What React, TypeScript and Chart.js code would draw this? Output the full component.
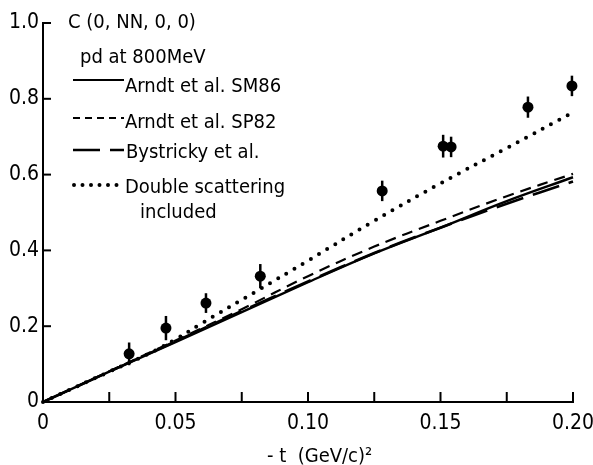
import React, { useEffect, useRef } from "react";
import { Chart, registerables } from "chart.js";

Chart.register(...registerables);

// Theory curves (C(0,NN,0,0) vs -t)
const curveT = [0, 0.025, 0.05, 0.075, 0.1, 0.125, 0.15, 0.175, 0.2];
const arndtSM86 = [0, 0.08, 0.158, 0.237, 0.316, 0.392, 0.46, 0.53, 0.593];
const arndtSP82 = [0, 0.081, 0.162, 0.245, 0.332, 0.41, 0.478, 0.543, 0.602];
const bystricky = [0, 0.08, 0.16, 0.24, 0.318, 0.393, 0.46, 0.523, 0.582];
const doubleT = [0, 0.025, 0.04, 0.05, 0.06, 0.08, 0.1, 0.125, 0.15, 0.175, 0.2];
const doubleScattering = [0, 0.08, 0.128, 0.165, 0.208, 0.29, 0.373, 0.478, 0.577, 0.67, 0.764];

// Measured points
const dataT = [0.0325, 0.0464, 0.0615, 0.082, 0.128, 0.151, 0.154, 0.183, 0.1996];
const dataC = [0.127, 0.195, 0.261, 0.332, 0.557, 0.675, 0.673, 0.778, 0.834];
const dataErr = [0.03, 0.032, 0.026, 0.032, 0.027, 0.03, 0.027, 0.028, 0.027];

// Axis ticks
const xTickValues = [0, 0.025, 0.05, 0.075, 0.1, 0.125, 0.15, 0.175, 0.2];
const xTickLabels = ["0", "", "0.05", "", "0.10", "", "0.15", "", "0.20"];
const yTickValues = [0, 0.2, 0.4, 0.6, 0.8, 1.0];
const yTickLabels = ["0", "0.2", "0.4", "0.6", "0.8", "1.0"];

const FONT = '"DejaVu Sans Condensed", "Liberation Sans Narrow", "Liberation Sans", sans-serif';

const extrasPlugin = {
  id: "extras",
  afterDatasetsDraw(chart: any) {
    const ctx = chart.ctx;
    const xs = chart.scales.x;
    const ys = chart.scales.y;
    ctx.save();
    ctx.strokeStyle = "#000";
    ctx.lineWidth = 2.5;
    ctx.lineCap = "butt";
    for (let i = 0; i < dataT.length; i++) {
      const x = xs.getPixelForValue(dataT[i]);
      const y1 = ys.getPixelForValue(dataC[i] - dataErr[i]);
      const y2 = ys.getPixelForValue(dataC[i] + dataErr[i]);
      ctx.beginPath();
      ctx.moveTo(x, y1);
      ctx.lineTo(x, y2);
      ctx.stroke();
    }
    ctx.restore();
  },
  afterDraw(chart: any) {
    const ctx = chart.ctx;
    const xs = chart.scales.x;
    const ys = chart.scales.y;
    const y0 = ys.getPixelForValue(0);
    const x0 = xs.getPixelForValue(0);
    ctx.save();
    // inward tick marks
    ctx.strokeStyle = "#000";
    ctx.lineWidth = 2;
    for (let i = 1; i < xTickValues.length; i++) {
      const x = xs.getPixelForValue(xTickValues[i]);
      ctx.beginPath();
      ctx.moveTo(x, y0);
      ctx.lineTo(x, y0 - 10);
      ctx.stroke();
    }
    for (let i = 1; i < yTickValues.length; i++) {
      const y = ys.getPixelForValue(yTickValues[i]);
      ctx.beginPath();
      ctx.moveTo(x0, y);
      ctx.lineTo(x0 + 8, y);
      ctx.stroke();
    }
    // x title
    ctx.fillStyle = "#000";
    ctx.font = `20px ${FONT}`;
    ctx.textAlign = "left";
    ctx.textBaseline = "alphabetic";
    ctx.fillText("- t  (GeV/c)²", 267, 462);

    // legend / annotation
    ctx.fillText("C (0, NN, 0, 0)", 68, 28);
    ctx.fillText("pd at 800MeV", 80, 63);
    ctx.fillText("Arndt et al. SM86", 125, 92);
    ctx.fillText("Arndt et al. SP82", 125, 128);
    ctx.fillText("Bystricky et al.", 126, 158);
    ctx.fillText("Double scattering", 125, 193);
    ctx.fillText("included", 140, 218);

    const sample = (y: number, dash: number[], width: number, cap: CanvasLineCap, x1 = 73, x2 = 124) => {
      ctx.beginPath();
      ctx.setLineDash(dash);
      ctx.lineWidth = width;
      ctx.lineCap = cap;
      ctx.moveTo(x1, y);
      ctx.lineTo(x2, y);
      ctx.stroke();
    };
    sample(80, [], 2.2, "butt");
    sample(118, [7, 5], 2, "butt");
    sample(150, [27, 10], 2.5, "butt");
    sample(185, [0, 8.5], 4, "round", 74, 124);
    ctx.setLineDash([]);
    ctx.restore();
  },
};

export default function App() {
  const ref = useRef<HTMLCanvasElement | null>(null);

  useEffect(() => {
    if (!ref.current) return;
    const mk = (xs: number[], ys: number[]) => xs.map((x, i) => ({ x, y: ys[i] }));
    const chart = new Chart(ref.current, {
      type: "line",
      data: {
        datasets: [
          {
            label: "Arndt et al. SM86",
            data: mk(curveT, arndtSM86),
            borderColor: "#000",
            borderWidth: 2.4,
            pointRadius: 0,
            tension: 0.4,
            clip: false,
          } as any,
          {
            label: "Arndt et al. SP82",
            data: mk(curveT, arndtSP82),
            borderColor: "#000",
            borderWidth: 2.2,
            borderDash: [11, 7],
            pointRadius: 0,
            tension: 0.4,
            clip: false,
          },
          {
            label: "Bystricky et al.",
            data: mk(curveT, bystricky),
            borderColor: "#000",
            borderWidth: 2.6,
            borderDash: [28, 10],
            pointRadius: 0,
            tension: 0.4,
            clip: false,
          },
          {
            label: "Double scattering included",
            data: mk(doubleT, doubleScattering),
            borderColor: "#000",
            borderWidth: 4,
            borderDash: [0, 9.5],
            borderCapStyle: "round",
            pointRadius: 0,
            tension: 0.4,
            clip: false,
          },
          {
            label: "data",
            data: mk(dataT, dataC),
            showLine: false,
            pointRadius: 5.5,
            pointBackgroundColor: "#000",
            pointBorderWidth: 0,
            borderColor: "#000",
            clip: false,
          },
        ],
      },
      options: {
        animation: false,
        responsive: false,
        layout: { padding: { top: 23, right: 20, left: 0, bottom: 0 } },
        plugins: { legend: { display: false }, tooltip: { enabled: false } },
        scales: {
          x: {
            type: "linear",
            min: 0,
            max: 0.2,
            afterBuildTicks: (s: any) => {
              s.ticks = xTickValues.map((v) => ({ value: v }));
            },
            afterFit: (s: any) => {
              s.height = 63;
              s.paddingLeft = 0;
              s.paddingRight = 0;
            },
            ticks: {
              autoSkip: false,
              maxRotation: 0,
              padding: 9,
              color: "#000",
              font: { family: FONT, size: 21 },
              callback: (_v: any, i: number) => xTickLabels[i],
            },
            grid: { drawOnChartArea: false, drawTicks: false },
            border: { color: "#000", width: 2 },
          },
          y: {
            type: "linear",
            min: 0,
            max: 1,
            afterBuildTicks: (s: any) => {
              s.ticks = yTickValues.map((v) => ({ value: v }));
            },
            afterFit: (s: any) => {
              s.width = 43;
              s.paddingTop = 0;
              s.paddingBottom = 0;
            },
            ticks: {
              padding: 4,
              color: "#000",
              font: { family: FONT, size: 21 },
              callback: (_v: any, i: number) => yTickLabels[i],
            },
            grid: { drawOnChartArea: false, drawTicks: false },
            border: { color: "#000", width: 2 },
          },
        },
      },
      plugins: [extrasPlugin],
    });
    return () => chart.destroy();
  }, []);

  return (
    <div style={{ position: "absolute", left: 0, top: 0, width: 593, height: 465, background: "#fff" }}>
      <canvas ref={ref} width={593} height={465} style={{ display: "block" }} />
    </div>
  );
}
